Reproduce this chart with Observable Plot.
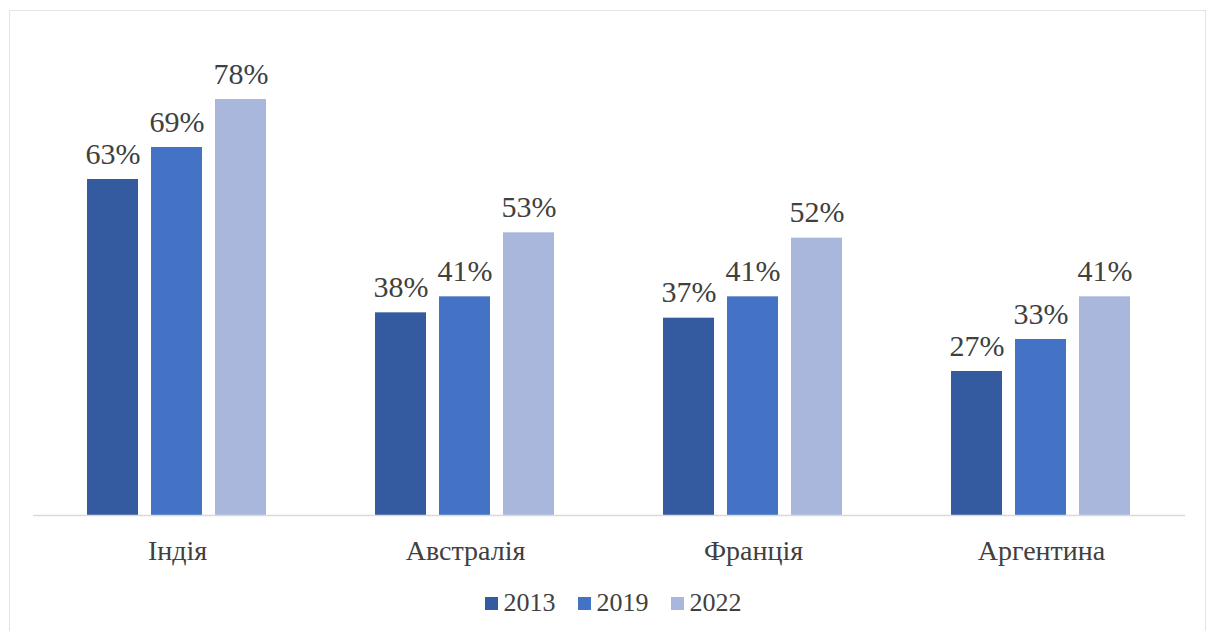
<!DOCTYPE html>
<html>
<head>
<meta charset="utf-8">
<script src="https://cdn.jsdelivr.net/npm/d3@7"></script>
<script src="https://cdn.jsdelivr.net/npm/@observablehq/plot@0.6"></script>
<style>
  html, body { margin: 0; padding: 0; background: #fff; }
  body { width: 1216px; height: 631px; position: relative; overflow: hidden; font-family: "Times New Roman", Tinos, "Liberation Serif", "DejaVu Serif", serif; }
  #frame { position: absolute; left: 9px; top: 10px; width: 1197px; height: 640px; border: 1px solid #e4e4e4; box-sizing: border-box; }
  #chart { position: absolute; left: 0; top: 0; }
  #chart svg, #chart svg text { font-family: "Times New Roman", Tinos, "Liberation Serif", "DejaVu Serif", serif !important; }
  #legend { position: absolute; left: 0; top: 588px; width: 1226px; display: flex; justify-content: center; gap: 22px; font-size: 26px; color: #404040; }
  .item { display: flex; align-items: center; gap: 6px; }
  .sw { width: 13px; height: 13px; display: inline-block; }
</style>
</head>
<body>
<div id="frame"></div>
<div id="chart"></div>
<div id="legend"></div>
<script>
const countries = ["Індія", "Австралія", "Франція", "Аргентина"];
const years = ["2013", "2019", "2022"];
const v2013 = [63, 38, 37, 27];
const v2019 = [69, 41, 41, 33];
const v2022 = [78, 53, 52, 41];
const colors = ["#345b9f", "#4472c4", "#a9b7dc"];

const series = [v2013, v2019, v2022];
const data = [];
countries.forEach((c, i) => years.forEach((y, j) => data.push({country: c, year: y, value: series[j][i]})));

const plot = Plot.plot({
  width: 1216,
  height: 580,
  marginLeft: 33,
  marginRight: 31,
  marginTop: 35,
  marginBottom: 65,
  style: {color: "#404040", background: "transparent"},
  fx: {domain: countries, padding: 0, label: null},
  x: {domain: years, paddingInner: 0.2, paddingOuter: 0.85, axis: null},
  y: {domain: [0, 90], axis: null},
  color: {domain: years, range: colors},
  marks: [
    Plot.axisFx({anchor: "bottom", tickSize: 0, tickPadding: 25, fontSize: 28, label: null, fill: "#404040"}),
    Plot.barY(data, {fx: "country", x: "year", y: "value", fill: "year"}),
    Plot.ruleY([0], {stroke: "#d9d9d9", strokeWidth: 1.5}),
    Plot.text(data, {fx: "country", x: "year", y: "value", text: d => d.value + "%", dy: -16, lineAnchor: "bottom", fontSize: 30, fill: "#404040"})
  ]
});
plot.setAttribute("font-family", "Times New Roman, Tinos, Liberation Serif, DejaVu Serif, serif");
document.getElementById("chart").appendChild(plot);

const legend = document.getElementById("legend");
years.forEach((y, i) => {
  const item = document.createElement("div");
  item.className = "item";
  item.innerHTML = `<span class="sw" style="background:${colors[i]}"></span><span>${y}</span>`;
  legend.appendChild(item);
});
</script>
</body>
</html>
